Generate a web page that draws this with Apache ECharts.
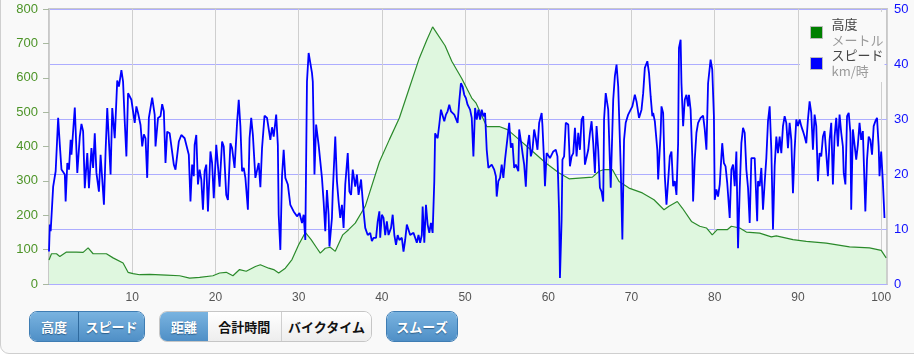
<!DOCTYPE html>
<html>
<head>
<meta charset="utf-8">
<script src="https://cdn.jsdelivr.net/npm/echarts@6/dist/echarts.min.js"></script>
<style>
  html, body { margin: 0; padding: 0; background: #fff; width: 914px; height: 356px; overflow: hidden; }
  #wrap { position: absolute; left: 0; top: -12px; width: 940px; height: 364px; background: #f9f9f9; border: 1px solid #cfcfcf; border-radius: 9px; }
  #chart { position: absolute; left: 0; top: 0; width: 914px; height: 356px; }
  .grp { position: absolute; top: 311px; height: 31px; display: flex; border-radius: 8px; overflow: hidden; box-sizing: border-box; font-family: "Noto Sans CJK JP", sans-serif; font-weight: bold; font-size: 13px; }
  .grp div { display: flex; align-items: center; justify-content: center; height: 100%; box-sizing: border-box; }
  .blue { background: linear-gradient(#79b3e0, #4f8fc6); color: #fff; text-shadow: 0 1px 1px #2d5f8a; }
  .white { background: linear-gradient(#ffffff, #ededed); color: #111; }
  .g1 { border: 1px solid #3f7db3; }
  .g2 { border: 1px solid #c6c6c6; }
  .sepb { border-left: 1px solid #2f6a9e; }
  .sepw { border-left: 1px solid #cfcfcf; }
</style>
</head>
<body>
<div id="wrap"></div>
<div id="chart"></div>
<div class="grp g1" style="left:29px;width:116px;">
  <div class="blue" style="width:49px;">高度</div>
  <div class="blue sepb" style="width:67px;">スピード</div>
</div>
<div class="grp g2" style="left:159px;width:213px;">
  <div class="blue" style="width:48px;">距離</div>
  <div class="white" style="width:74px;">合計時間</div>
  <div class="white sepw" style="width:91px;">バイクタイム</div>
</div>
<div class="grp g1" style="left:386px;width:72px;">
  <div class="blue" style="width:72px;">スムーズ</div>
</div>
<script>
// ---- data ----
const seriesNames = ['高度', 'スピード'];
const seriesUnits = ['メートル', 'km/時'];

const elevKm = [0, 0.3, 0.9, 1.3, 2.1, 3.3, 4.1, 4.7, 5.3, 6.9, 7.7, 8.9, 9.5, 10.1, 10.9, 12.1, 14.1, 15.7, 16.9, 18.1, 19.7, 20.5, 21.3, 22.1, 22.9, 23.7, 24.8, 25.4, 26.4, 27.0, 27.6, 27.8, 28.4, 29.2, 30.0, 30.8, 31.5, 32.2, 32.6, 33.2, 33.8, 34.4, 35.3, 36.0, 36.8, 38.0, 39.7, 40.9, 42.1, 43.3, 44.5, 45.4, 46.1, 47.6, 48.4, 49.6, 50.8, 51.3, 52.6, 54.1, 55.1, 56.5, 58.1, 59.7, 61.3, 62.5, 65.3, 66.1, 66.7, 67.7, 68.5, 69.7, 71.3, 72.7, 73.9, 74.5, 75.5, 76.1, 77.2, 78.2, 79.0, 79.7, 80.3, 81.5, 82.0, 83.0, 83.8, 85.4, 86.8, 87.4, 89.4, 91.0, 93.4, 96.2, 98.6, 100.0, 100.6];
const elevM = [70, 88, 88, 80, 93, 93, 92, 105, 88, 88, 76, 61, 34, 30, 27, 28, 26, 24, 17, 19, 24, 32, 34, 24, 42, 37, 51, 56, 46, 42, 32, 37, 46, 71, 114, 150, 129, 104, 90, 104, 107, 95, 143, 158, 177, 226, 355, 420, 483, 570, 657, 710, 748, 693, 648, 598, 541, 527, 458, 458, 449, 420, 386, 352, 323, 306, 311, 328, 333, 333, 298, 279, 265, 245, 216, 226, 240, 221, 182, 168, 163, 143, 158, 158, 168, 163, 151, 148, 137, 140, 129, 124, 119, 108, 105, 98, 76];

const speedKm = [0.0, 0.1, 0.2, 0.5, 0.8, 1.1, 1.3, 1.5, 1.7, 1.9, 2.0, 2.2, 2.4, 2.6, 2.7, 3.1, 3.4, 3.7, 3.9, 4.1, 4.3, 4.6, 4.8, 5.1, 5.3, 5.5, 5.7, 6.0, 6.2, 6.4, 6.6, 6.8, 7.0, 7.4, 7.6, 7.9, 8.2, 8.4, 8.7, 8.9, 9.1, 9.3, 9.5, 9.7, 9.9, 10.1, 10.3, 10.5, 10.7, 11.0, 11.2, 11.4, 11.6, 11.8, 12.0,
  12.4, 12.7, 12.8, 13.1, 13.4, 13.6, 13.8, 14.0, 14.2, 14.5, 14.7, 15.0, 15.2, 15.6, 15.9, 16.3, 16.5, 16.8, 17.0, 17.2, 17.4, 17.5, 17.7, 17.9, 18.1, 18.3, 18.5, 18.7, 18.9, 19.1, 19.4, 19.6, 19.8, 20.1, 20.3, 20.5, 20.8, 21.0, 21.3, 21.5, 21.8, 22.0, 22.3, 22.6, 22.8, 23.0, 23.2, 23.4, 23.6, 23.9, 24.1, 24.3, 24.5, 24.8, 25.0,
  25.2, 25.4, 25.6, 25.9, 26.2, 26.4, 26.6, 26.8, 27.0, 27.3, 27.5, 27.6, 27.8, 28.0, 28.2, 28.4, 28.7, 29.0, 29.4, 29.8, 30.1, 30.4, 30.6, 30.8, 31.0, 31.2, 31.4, 31.6, 31.7, 31.9, 32.1, 32.4, 32.6, 32.8, 33.0, 33.2, 33.4, 33.6, 33.7, 34.0, 34.1, 34.4, 34.6, 34.8, 35.0, 35.2, 35.4, 35.6, 35.9, 36.1, 36.3, 36.5, 36.8, 37.0, 37.2, 37.5,
  37.8, 38.0, 38.3, 38.6, 38.8, 39.0, 39.3, 39.5, 39.7, 39.8, 40.0, 40.2, 40.4, 40.6, 40.8, 41.1, 41.3, 41.5, 41.7, 41.9, 42.1, 42.4, 42.6, 42.8, 43.0, 43.2, 43.4, 43.6, 43.8, 44.0, 44.2, 44.4, 44.6, 44.8, 44.9, 45.1, 45.3, 45.5, 45.7, 45.9, 46.1, 46.3, 46.4, 46.7, 46.9, 47.1, 47.3, 47.5, 47.7, 47.9, 48.1, 48.3, 48.5, 48.7, 48.9, 49.1, 49.3, 49.5, 49.7, 49.9, 50.1, 50.3,
  50.6, 50.8, 51.0, 51.2, 51.4, 51.6, 51.8, 52.0, 52.2, 52.4, 52.6, 52.8, 53.0, 53.2, 53.5, 53.7, 53.8, 54.0, 54.2, 54.4, 54.6, 54.8, 55.0, 55.3, 55.5, 55.7, 55.9, 56.1, 56.4, 56.5, 56.8, 56.9, 57.1, 57.3, 57.5, 57.7, 57.9, 58.1, 58.3, 58.5, 58.7, 58.9, 59.2, 59.3, 59.5, 59.6, 59.8, 60.0, 60.2, 60.4, 60.6, 60.9, 61.1, 61.3, 61.4, 61.6, 61.7, 61.9, 62.1, 62.4, 62.6, 62.8, 63.0, 63.2, 63.4, 63.6, 63.8, 64.0, 64.2, 64.4, 64.6, 64.8, 65.0, 65.2, 65.4, 65.6, 65.8, 66.0, 66.2, 66.4, 66.6,
  66.7, 66.9, 67.2, 67.5, 67.8, 68.0, 68.2, 68.4, 68.7, 68.9, 69.1, 69.3, 69.6, 69.9, 70.1, 70.4, 70.6, 70.9, 71.2, 71.4, 71.6, 71.9, 72.1, 72.3, 72.5, 72.6, 72.8, 73.1, 73.2, 73.5, 73.6, 73.8, 74.0, 74.2, 74.4, 74.6, 74.8, 75.0, 75.2, 75.4, 75.6, 75.7, 75.9, 76.0, 76.2, 76.4, 76.6, 76.8, 76.9, 77.1, 77.3, 77.4, 77.6, 77.8, 78.0, 78.3, 78.6, 78.8, 79.0, 79.2, 79.5, 79.7, 79.9,
  80.0, 80.2, 80.4, 80.6, 80.8, 80.9, 81.1, 81.3, 81.5, 81.8, 82.0, 82.2, 82.4, 82.6, 82.8, 83.0, 83.2, 83.4, 83.6, 83.8, 84.0, 84.2, 84.4, 84.6, 84.8, 85.1, 85.2, 85.4, 85.6, 85.8, 86.0, 86.2, 86.4, 86.6, 86.8, 87.0, 87.2, 87.4, 87.6, 87.8, 88.0, 88.2, 88.4, 88.6, 88.8, 89.0, 89.2, 89.4, 89.6, 89.8,
  90.0, 90.2, 90.4, 90.6, 90.8, 91.0, 91.2, 91.4, 91.6, 91.8, 92.0, 92.2, 92.4, 92.6, 92.8, 93.0, 93.2, 93.4, 93.6, 93.8, 94.0, 94.2, 94.4, 94.6, 94.8, 95.0, 95.2, 95.4, 95.5, 95.7, 95.9, 96.1, 96.3, 96.4, 96.6, 96.8, 97.0, 97.2, 97.4, 97.6, 97.8, 98.0, 98.1, 98.3, 98.5, 98.7, 98.9, 99.1, 99.3, 99.5, 99.7, 99.8, 100.0, 100.2, 100.4];
const speedKmh = [5.9, 10.8, 9.6, 17.7, 20.5, 30.2, 25.3, 20.8, 20.5, 19.9, 15.0, 22.0, 20.8, 26.2, 23.5, 32.1, 20.2, 26.8, 29.1, 27.8, 17.4, 23.8, 17.4, 24.7, 21.1, 27.4, 20.2, 16.8, 23.5, 23.2, 14.4, 24.1, 32.0, 19.9, 32.0, 26.5, 37.0, 35.9, 38.9, 36.8, 29.6, 23.2, 34.7, 35.0, 33.5, 33.5, 29.3, 32.3, 31.1, 28.9, 25.0, 27.2, 26.5, 19.3, 30.2,
  33.9, 30.8, 25.0, 30.2, 30.5, 32.7, 31.4, 22.0, 27.7, 27.4, 27.4, 21.7, 20.8, 25.9, 27.1, 26.5, 26.8, 23.5, 15.0, 21.7, 19.6, 25.3, 27.1, 18.1, 20.8, 19.0, 13.5, 20.5, 21.7, 13.2, 24.1, 22.0, 15.6, 25.3, 25.6, 17.7, 25.9, 25.0, 16.2, 15.3, 25.6, 24.7, 21.1, 29.3, 33.5, 28.7, 20.5, 21.1, 19.3, 13.5, 26.5, 30.2, 27.1, 19.3, 19.0,
  22.0, 17.6, 24.7, 30.6, 30.2, 29.9, 26.2, 28.5, 26.8, 30.8, 25.3, 12.6, 6.2, 19.6, 24.4, 19.3, 18.1, 14.4, 13.2, 12.3, 12.9, 11.1, 12.6, 8.0, 36.8, 42.0, 41.8, 38.4, 36.8, 19.9, 29.0, 25.3, 22.3, 19.3, 15.0, 9.6, 17.1, 12.6, 6.8, 12.0, 16.8, 26.8, 18.7, 15.0, 12.0, 14.4, 10.2, 18.1, 23.8, 16.8, 16.2, 20.8, 17.7, 19.9, 16.2, 19.0,
  13.2, 10.2, 8.9, 9.3, 7.8, 8.4, 8.4, 11.4, 13.2, 8.4, 12.6, 12.0, 8.9, 11.4, 8.9, 10.2, 12.6, 8.9, 7.1, 8.9, 8.0, 8.4, 5.9, 8.0, 10.8, 10.5, 8.9, 8.9, 9.3, 8.4, 7.5, 8.9, 7.5, 8.9, 14.1, 7.5, 14.4, 10.8, 9.3, 11.1, 9.3, 18.7, 27.4, 26.5, 29.0, 31.7, 31.7, 29.6, 30.8, 31.4, 32.6, 31.4, 31.4, 30.8, 31.1, 29.3, 33.2, 36.5, 35.9, 34.4, 33.8, 32.6,
  31.7, 30.2, 23.2, 32.0, 29.9, 31.7, 29.9, 31.7, 30.5, 31.1, 24.4, 21.1, 21.1, 21.7, 20.8, 19.6, 15.9, 18.7, 19.3, 21.7, 19.3, 22.6, 22.9, 29.3, 24.8, 25.6, 21.1, 21.7, 20.5, 28.1, 25.0, 23.8, 21.7, 17.7, 25.0, 27.1, 23.2, 24.4, 28.1, 26.5, 24.4, 29.3, 31.1, 28.7, 22.0, 17.8, 23.8, 24.1, 22.9, 23.2, 24.1, 24.4, 23.2, 12.9, 1.1, 11.7, 22.6, 23.2, 29.3, 29.0, 21.4, 23.2, 23.8, 28.4, 23.2, 27.5, 24.4, 29.9, 30.5, 21.7, 21.4, 24.4, 27.4, 29.6, 25.6, 20.2, 28.7, 24.4, 17.5, 16.8, 15.0,
  29.9, 34.7, 31.7, 17.5, 33.5, 37.8, 39.9, 35.9, 21.4, 8.1, 26.2, 29.3, 30.8, 31.7, 32.3, 34.4, 33.2, 30.2, 31.7, 34.7, 39.3, 40.5, 38.4, 34.1, 30.5, 31.1, 29.6, 24.4, 19.0, 27.5, 32.3, 31.1, 19.6, 14.4, 18.7, 23.2, 24.1, 17.8, 18.7, 16.2, 25.6, 42.9, 44.4, 36.5, 28.7, 33.5, 34.4, 32.3, 34.4, 31.7, 23.2, 15.0, 22.6, 27.5, 29.3, 30.2, 30.6, 28.1, 24.4, 36.5, 40.8, 39.0, 30.5,
  15.3, 17.2, 15.9, 18.1, 23.2, 25.6, 22.0, 21.4, 18.4, 12.0, 20.8, 21.7, 17.8, 24.1, 6.5, 17.2, 25.6, 28.4, 27.5, 20.8, 17.5, 11.1, 22.9, 22.6, 22.9, 11.4, 18.7, 17.8, 21.1, 13.5, 18.4, 22.9, 29.6, 32.3, 24.4, 9.9, 21.4, 26.8, 23.8, 26.8, 23.8, 28.7, 30.5, 29.3, 24.7, 29.3, 26.2, 16.5, 24.4, 29.9,
  28.7, 29.9, 28.7, 27.8, 26.8, 25.6, 29.9, 33.2, 31.1, 24.4, 30.8, 28.7, 18.7, 23.8, 23.2, 26.8, 27.8, 27.5, 19.6, 26.2, 29.3, 18.1, 26.8, 30.2, 25.0, 30.8, 27.5, 25.0, 20.2, 18.1, 30.5, 31.1, 27.5, 13.5, 28.1, 27.8, 22.6, 25.3, 29.3, 26.2, 27.8, 28.1, 13.2, 22.6, 26.8, 26.2, 23.5, 28.7, 29.6, 30.2, 25.0, 19.6, 24.1, 18.7, 12.0];

const distRange = [0, 100.7];
const elevRange = [0, 800];
const speedRange = [0, 50];

// ---- chart ----
const elevData = elevKm.map((k, i) => [k, elevM[i]]);
const speedData = speedKm.map((k, i) => [k, speedKmh[i]]);
const numFont = '"Liberation Sans", Arial, sans-serif';
const jpFont = '"Noto Sans CJK JP", sans-serif';

const chart = echarts.init(document.getElementById('chart'), null, { renderer: 'canvas' });
chart.setOption({
  animation: false,
  backgroundColor: 'transparent',
  grid: { left: 49, top: 9, width: 838, height: 275, show: true, borderColor: '#c8c8c8', borderWidth: 2, backgroundColor: 'transparent' },
  legend: {
    orient: 'vertical', left: 800, top: 12, itemGap: 2,
    padding: [6, 1, 4, 10],
    backgroundColor: '#f9f9f9',
    itemWidth: 12, itemHeight: 12,
    data: [
      { name: seriesNames[0], icon: 'rect', itemStyle: { color: '#008000', borderColor: '#bbbbbb', borderWidth: 1 } },
      { name: seriesNames[1], icon: 'rect', itemStyle: { color: '#0000ff', borderColor: '#bbbbbb', borderWidth: 1 } }
    ],
    formatter: function (name) {
      const i = seriesNames.indexOf(name);
      return '{a|' + name + '}\n{b|' + seriesUnits[i] + '}';
    },
    textStyle: {
      padding: [0, 0, 0, 4],
      rich: {
        a: { fontFamily: jpFont, fontSize: 13, color: '#444', lineHeight: 16 },
        b: { fontFamily: jpFont, fontSize: 13, color: '#9a9a9a', lineHeight: 16 }
      }
    }
  },
  xAxis: {
    type: 'value', min: distRange[0], max: distRange[1], interval: 10,
    axisLine: { show: false }, axisTick: { show: false },
    splitLine: { show: true, lineStyle: { color: '#cfcfcf', width: 1 } },
    axisLabel: { showMinLabel: false, showMaxLabel: false, margin: 8, color: '#555', fontFamily: numFont, fontSize: 12,
      formatter: v => (Math.abs(v - Math.round(v)) < 1e-6 && Math.round(v) % 10 === 0) ? String(Math.round(v)) : '' }
  },
  yAxis: [
    {
      type: 'value', min: elevRange[0], max: elevRange[1], interval: 100, position: 'left',
      axisLine: { show: false },
      axisTick: { show: true, length: 6, lineStyle: { color: '#a8b8a0' } },
      splitLine: { show: false },
      axisLabel: { margin: 11, color: '#4d9428', fontFamily: numFont, fontSize: 13 }
    },
    {
      type: 'value', min: speedRange[0], max: speedRange[1], interval: 10, position: 'right',
      axisLine: { show: false }, axisTick: { show: false },
      splitLine: { show: true, lineStyle: { color: '#adadff', width: 1 } },
      axisLabel: { margin: 7, color: '#1010ff', fontFamily: numFont, fontSize: 13 }
    }
  ],
  series: [
    {
      name: seriesNames[0], type: 'line', yAxisIndex: 0, data: elevData,
      showSymbol: false, symbol: 'none', smooth: false,
      lineStyle: { color: '#2b8a2b', width: 1.2 },
      itemStyle: { color: '#008000' },
      areaStyle: { color: '#dff7df', opacity: 1 },
      z: 2
    },
    {
      name: seriesNames[1], type: 'line', yAxisIndex: 1, data: speedData,
      showSymbol: false, symbol: 'none', smooth: false,
      lineStyle: { color: '#0000ff', width: 1.8 },
      itemStyle: { color: '#0000ff' },
      z: 3
    }
  ]
});
</script>
</body>
</html>
